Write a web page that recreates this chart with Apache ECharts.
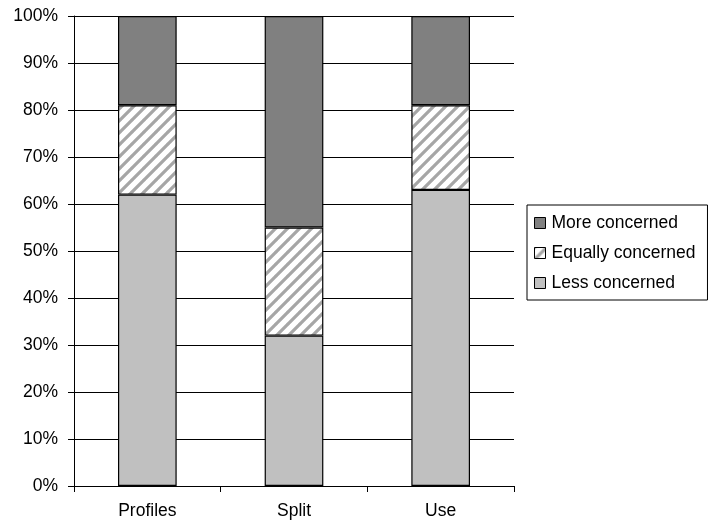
<!DOCTYPE html>
<html>
<head>
<meta charset="utf-8">
<script src="https://cdn.jsdelivr.net/npm/echarts@6/dist/echarts.min.js"></script>
<style>
  html, body { margin: 0; padding: 0; background: #fff; }
  #chart { width: 709px; height: 527px; }
</style>
</head>
<body>
<div id="chart"></div>
<script>
// Survey responses per topic, in percent of respondents
const categories = ['Profiles', 'Split', 'Use'];
const lessConcerned = [62, 32, 63];
const equallyConcerned = [19, 23, 18];
const moreConcerned = [19, 45, 19];
const yTicks = [0, 100, 10]; // min, max, step

// Diagonal hatch tile for the "Equally concerned" segments
function makeHatch() {
  const size = 12;
  const c = document.createElement('canvas');
  c.width = size; c.height = size;
  const g = c.getContext('2d');
  g.fillStyle = '#ffffff';
  g.fillRect(0, 0, size, size);
  g.strokeStyle = '#a6a6a6';
  g.lineWidth = 3.2;
  g.beginPath();
  for (let k = -1; k <= 1; k++) {
    g.moveTo(k * size - 1, size + 1);
    g.lineTo(k * size + size + 1, -1);
  }
  g.stroke();
  return c;
}
const hatch = { image: makeHatch(), repeat: 'repeat' };

const font = { fontFamily: '"Liberation Sans", Arial, sans-serif', fontSize: 17.5, color: '#000' };

const chart = echarts.init(document.getElementById('chart'), null, { renderer: 'canvas' });
const barStyle = { borderColor: '#000', borderWidth: 1.2 };

chart.setOption({
  animation: false,
  backgroundColor: '#fff',
  grid: { left: 74, right: 195, top: 16, bottom: 41, containLabel: false },
  legend: {
    orient: 'vertical',
    left: 527,
    top: 205,
    data: ['More concerned', 'Equally concerned', 'Less concerned'],
    icon: 'rect',
    itemWidth: 11,
    itemHeight: 11,
    itemGap: 12,
    padding: [9, 12, 8, 7],
    borderColor: '#000',
    borderWidth: 1,
    borderRadius: 0,
    textStyle: Object.assign({}, font, { padding: [0, 0, 0, 1] }),
    itemStyle: { borderColor: '#000', borderWidth: 1 }
  },
  xAxis: {
    type: 'category',
    data: categories,
    axisLine: { lineStyle: { color: '#000', width: 1 } },
    axisTick: { show: true, alignWithLabel: false, length: 6, lineStyle: { color: '#000' } },
    axisLabel: Object.assign({}, font, { margin: 16 }),
    splitLine: { show: false }
  },
  yAxis: {
    type: 'value',
    min: yTicks[0],
    max: yTicks[1],
    interval: yTicks[2],
    axisLine: { show: true, lineStyle: { color: '#000', width: 1 } },
    axisTick: { show: true, length: 6, lineStyle: { color: '#000' } },
    axisLabel: Object.assign({}, font, { margin: 16, formatter: '{value}%' }),
    splitLine: { show: true, lineStyle: { color: '#000', width: 1 } }
  },
  series: [
    {
      name: 'Less concerned', type: 'bar', stack: 'all', barWidth: '40%',
      data: lessConcerned,
      itemStyle: Object.assign({ color: '#c0c0c0' }, barStyle)
    },
    {
      name: 'Equally concerned', type: 'bar', stack: 'all', barWidth: '40%',
      data: equallyConcerned,
      itemStyle: Object.assign({ color: hatch }, barStyle)
    },
    {
      name: 'More concerned', type: 'bar', stack: 'all', barWidth: '40%',
      data: moreConcerned,
      itemStyle: Object.assign({ color: '#808080' }, barStyle)
    }
  ]
});
</script>
</body>
</html>
